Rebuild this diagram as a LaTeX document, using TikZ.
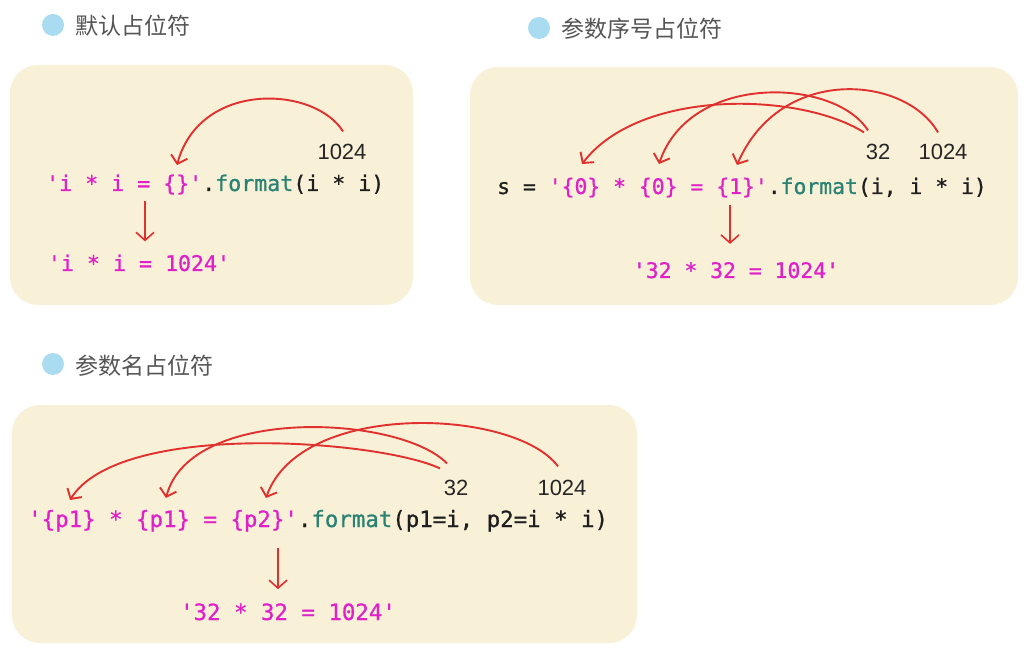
\documentclass[tikz,border=0pt]{standalone}
\usepackage{fontspec}
\newfontfamily\cjk{Noto Sans CJK SC}
\newfontfamily\codefont{DejaVu Sans Mono}[Ligatures=TeXOff,FakeBold=0.8]
\newfontfamily\numfont{Liberation Sans}
\usetikzlibrary{arrows.meta,calc}
\definecolor{cream}{HTML}{F9F0D8}
\definecolor{bulletblue}{HTML}{A9DCF1}
\definecolor{titlegray}{HTML}{555555}
\definecolor{mag}{HTML}{E020C8}
\definecolor{fmt}{HTML}{2A8272}
\definecolor{codeblack}{HTML}{1E1E1E}
\definecolor{numgray}{HTML}{262626}
\definecolor{arrowred}{HTML}{E0312F}
\begin{document}
\begin{tikzpicture}[x=1pt,y=-1pt,
  panel/.style={fill=cream, rounded corners=28pt},
  bullet/.style={circle, fill=bulletblue, minimum size=22pt, inner sep=0pt},
  title/.style={anchor=west, inner sep=0pt, text=titlegray, font=\cjk\fontsize{23}{23}\selectfont},
  code/.style={anchor=base west, inner sep=0pt, text=codeblack},
  result/.style={anchor=base, inner sep=0pt, text=mag},
  num/.style={anchor=base, inner sep=0pt, text=numgray, font=\numfont\fontsize{22}{22}\selectfont},
  link/.style={draw=arrowred, line width=1.9pt, -{Straight Barb[length=7.5pt,width=17pt]}},
  down/.style={draw=arrowred, line width=1.6pt, -{Straight Barb[length=8pt,width=18pt]}}
]
\fill[white] (0,0) rectangle (1034,660);
\useasboundingbox (0,0) rectangle (1034,660);

% ---------- panel backgrounds ----------
\fill[panel] (10,65) rectangle (413,305);
\fill[panel] (470,67) rectangle (1018,305);
\fill[panel] (12,405) rectangle (637,643);

% ---------- titles ----------
\node[bullet] (b1) at (53,25) {};
\node[title] (h1) at (75,26) {默认占位符};
\node[bullet] (b2) at (539,28) {};
\node[title] (h2) at (561,29) {参数序号占位符};
\node[bullet] (b3) at (53,364) {};
\node[title] (h3) at (75,366) {参数名占位符};

% ---------- panel 1 ----------
\node[code, font=\codefont\fontsize{21.6}{22}\selectfont] (c1) at (46,191)
  {\textcolor{mag}{'i * i = \{\}'}.\textcolor{fmt}{format}(i * i)};
\node[num] (n1) at (342,160) {1024};
\node[result, font=\codefont\fontsize{21.6}{22}\selectfont] (r1) at (139,271) {'i * i = 1024'};
\coordinate (t1) at (177,165);
\draw[link] ([xshift=1pt,yshift=13pt]n1.north) .. controls (315,86) and (200,80) .. (t1);
\coordinate (d1) at (145,201);
\draw[down, shorten >=13pt] (d1) -- (d1 |- r1.north);

% ---------- panel 2 ----------
\node[code, font=\codefont\fontsize{21.4}{22}\selectfont] (c2) at (497,194)
  {s = \textcolor{mag}{'\{0\} * \{0\} = \{1\}'}.\textcolor{fmt}{format}(i, i * i)};
\node[num] (n2a) at (878,160) {32};
\node[num] (n2b) at (943,160) {1024};
\node[result, font=\codefont\fontsize{21.4}{22}\selectfont] (r2) at (736,278) {'32 * 32 = 1024'};
\coordinate (t2a) at (582,164);
\coordinate (t2b) at (659,164);
\coordinate (t2c) at (737,165);
\draw[link] ([xshift=-14pt,yshift=12pt]n2a.north) .. controls (800,92) and (640,88) .. (t2a);
\draw[link] ([xshift=-10pt,yshift=14pt]n2a.north) .. controls (835,78) and (690,72) .. (t2b);
\draw[link] ([xshift=-5pt,yshift=12pt]n2b.north) .. controls (905,75) and (780,65) .. (t2c);
\coordinate (d2) at (730,205);
\draw[down, shorten >=18pt] (d2) -- (d2 |- r2.north);

% ---------- panel 3 ----------
\node[code, font=\codefont\fontsize{22.4}{23}\selectfont] (c3) at (28,527)
  {\textcolor{mag}{'\{p1\} * \{p1\} = \{p2\}'}.\textcolor{fmt}{format}(p1=i, p2=i * i)};
\node[num] (n3a) at (456,495) {32};
\node[num] (n3b) at (562,495) {1024};
\node[result, font=\codefont\fontsize{22.4}{23}\selectfont] (r3) at (288,620) {'32 * 32 = 1024'};
\coordinate (t3a) at (70,500);
\coordinate (t3b) at (166,498);
\coordinate (t3c) at (266,498);
\draw[link] ([xshift=-16pt,yshift=11pt]n3a.north) .. controls (380,440) and (120,420) .. (t3a);
\draw[link] ([xshift=-9pt,yshift=16pt]n3a.north) .. controls (400,415) and (190,405) .. (t3b);
\draw[link] ([xshift=-4pt,yshift=13pt]n3b.north) .. controls (515,408) and (300,400) .. (t3c);
\coordinate (d3) at (278,548);
\draw[down, shorten >=14pt] (d3) -- (d3 |- r3.north);
\end{tikzpicture}
\end{document}
